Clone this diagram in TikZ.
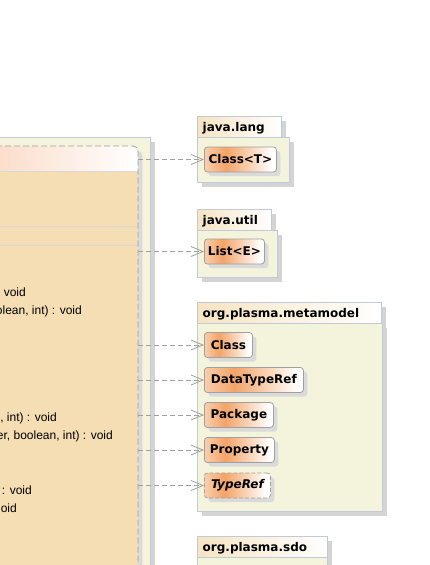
\documentclass[tikz,border=0pt]{standalone}
\usepackage{fontspec}
\usetikzlibrary{arrows.meta,shadows}
\newfontfamily\dejavu{DejaVu Sans}
\newfontfamily\libsans{Liberation Sans}
\definecolor{pkgfill}{HTML}{F4F4DC}
\definecolor{pkgline}{HTML}{C2C9D8}
\definecolor{wheatfill}{HTML}{F5DEB3}
\definecolor{hdrL}{HTML}{FBD6C0}
\definecolor{tabL}{HTML}{F6E4C2}
\definecolor{nodeL}{HTML}{F9CFAE}
\definecolor{nodeM}{HTML}{F3A467}
\definecolor{nodeline}{HTML}{A0A0A0}
\definecolor{depline}{HTML}{A0A0A0}
\definecolor{sepline}{HTML}{D8D8D8}
\definecolor{shadowgrey}{HTML}{D4D4D4}
\definecolor{nshadow}{HTML}{DADADA}
\pgfdeclarehorizontalshading{nodeshade}{100bp}{color(0bp)=(nodeL); color(25bp)=(nodeL); color(40bp)=(nodeM); color(72bp)=(white); color(100bp)=(white)}
\tikzset{
  pkgshadow/.style={drop shadow={shadow xshift=4.5pt, shadow yshift=-4.5pt, fill=shadowgrey, opacity=1}},
  pkgbody/.style={draw=pkgline, line width=0.8pt, fill=pkgfill, inner sep=0pt, anchor=north west, pkgshadow},
  pkgtab/.style={draw=pkgline, line width=0.8pt, left color=tabL, right color=white, inner sep=0pt, anchor=north west, pkgshadow},
  tablabel/.style={anchor=base west, inner sep=0pt, font=\dejavu\bfseries\fontsize{12}{14}\selectfont},
  cls/.style={draw=nodeline, line width=0.8pt, rounded corners=3pt, shade, shading=nodeshade, minimum height=25pt, inner sep=0pt, anchor=west, font=\dejavu\bfseries\fontsize{12}{14}\selectfont, drop shadow={shadow xshift=4pt, shadow yshift=-4pt, fill=nshadow, opacity=1}},
  abstractcls/.style={cls, dash pattern=on 4pt off 2pt, font=\dejavu\bfseries\itshape\fontsize{12}{14}\selectfont},
  dep/.style={draw=depline, line width=0.8pt, dash pattern=on 5pt off 3pt, -{Straight Barb[length=12pt,width=10pt]}},
  method/.style={anchor=base east, inner sep=0pt, font=\libsans\fontsize{12}{14}\selectfont, text=black},
  sep/.style={draw=sepline, line width=1pt},
}
\begin{document}
\begin{tikzpicture}[x=1pt,y=-1pt]
\useasboundingbox (0,0) rectangle (429,565);
\clip (0,0) rectangle (429,565);
\fill[white] (0,0) rectangle (429,565);

% left package
\node[pkgbody, anchor=north east, minimum width=190pt, minimum height=470pt] (pkgL) at (151,137) {};

% main class box
\node[fill=wheatfill, rounded corners=5pt, minimum width=170pt, minimum height=460pt, anchor=north east, inner sep=0pt,
      drop shadow={shadow xshift=4.5pt, shadow yshift=-4.5pt, fill=nshadow, opacity=1}] (main) at (138,146) {};
\begin{scope}
  \clip[rounded corners=5pt] (main.north west) rectangle (main.south east);
  \shade[left color=hdrL, right color=white] (main.north west) rectangle ([yshift=-25pt]main.north east);
\end{scope}
\draw[sep] ([yshift=-25pt]main.north west) -- ([yshift=-25pt]main.north east);
\draw[sep] ([yshift=-80pt]main.north west) -- ([yshift=-80pt]main.north east);
\draw[sep] ([yshift=-99pt]main.north west) -- ([yshift=-99pt]main.north east);
\draw[draw=nodeline, line width=0.8pt, dash pattern=on 6pt off 3pt, rounded corners=5pt] (main.north west) rectangle (main.south east);

% method texts
\node[method] (t1) at (26,296) {: void};
\node[method] (t2) at (82,314) {olean, int) : void};
\node[method] (t3) at (57,421) {n, int) : void};
\node[method] (t4) at (113,439) {er, boolean, int) : void};
\node[method] (t5) at (32,494) {n : void};
\node[method] (t6) at (17,512) {oid};

% java.lang
\node[pkgtab, minimum width=84pt, minimum height=21pt] (tabLang) at (197,116) {};
\node[pkgbody, minimum width=92pt, minimum height=45pt] (bodyLang) at (197,137) {};
\node[tablabel] (lblLang) at (202.5,131.5) {java.lang};
\node[cls, minimum width=72pt] (classT) at (204,159.5) {Class<T>};

% java.util
\node[pkgtab, minimum width=74pt, minimum height=21pt] (tabUtil) at (197,209) {};
\node[pkgbody, minimum width=80pt, minimum height=47pt] (bodyUtil) at (197,230) {};
\node[tablabel] (lblUtil) at (202.5,224.5) {java.util};
\node[cls, minimum width=60pt] (listE) at (204,251.5) {List<E>};

% org.plasma.metamodel
\node[pkgtab, minimum width=184pt, minimum height=21pt] (tabMeta) at (197,302) {};
\node[pkgbody, minimum width=185pt, minimum height=188pt] (bodyMeta) at (197,323) {};
\node[tablabel] (lblMeta) at (202.5,317.5) {org.plasma.metamodel};
\node[cls, minimum width=48pt] (mClass) at (204,345) {Class};
\node[cls, minimum width=99pt] (mDataTypeRef) at (204,380) {DataTypeRef};
\node[cls, minimum width=69pt] (mPackage) at (204,415) {Package};
\node[cls, minimum width=70pt] (mProperty) at (204,450) {Property};
\node[abstractcls, minimum width=66pt] (mTypeRef) at (204,485.5) {TypeRef};

% org.plasma.sdo
\node[pkgtab, minimum width=130pt, minimum height=21pt] (tabSdo) at (197,536) {};
\node[pkgbody, minimum width=130pt, minimum height=50pt] (bodySdo) at (197,557) {};
\node[tablabel] (lblSdo) at (202.5,551.5) {org.plasma.sdo};

% dependencies
\draw[dep] (main.east |- classT.west) -- (classT.west);
\draw[dep] (main.east |- listE.west) -- (listE.west);
\draw[dep] (main.east |- mClass.west) -- (mClass.west);
\draw[dep] (main.east |- mDataTypeRef.west) -- (mDataTypeRef.west);
\draw[dep] (main.east |- mPackage.west) -- (mPackage.west);
\draw[dep] (main.east |- mProperty.west) -- (mProperty.west);
\draw[dep] (main.east |- mTypeRef.west) -- (mTypeRef.west);
\end{tikzpicture}
\end{document}
